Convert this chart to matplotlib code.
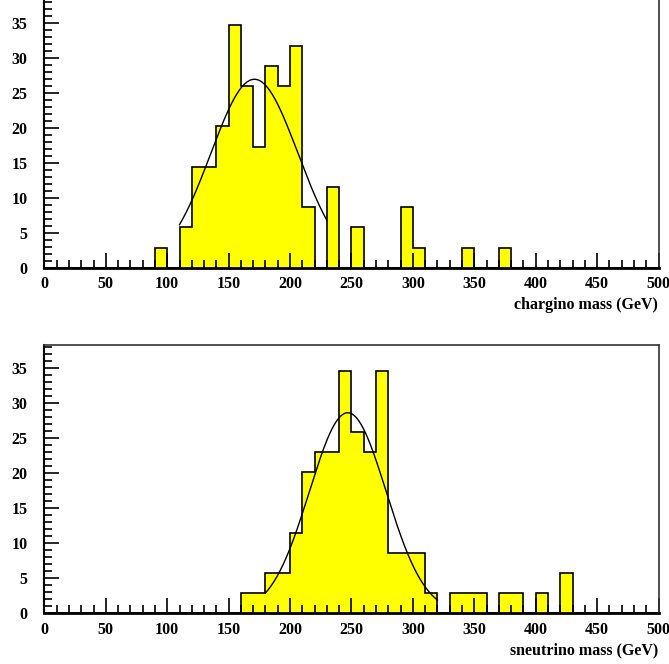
import numpy as np
import matplotlib
matplotlib.use("Agg")
import matplotlib.pyplot as plt
from matplotlib.ticker import MultipleLocator

# bin edges (GeV), 10 GeV bins from 0 to 500
bin_width = 10
x_min, x_max = 0, 500

chargino_counts = [0, 0, 0, 0, 0, 0, 0, 0, 0, 2.88,
                   0, 5.76, 14.4, 14.4, 20.2, 34.6, 25.9, 17.3, 28.8, 25.9,
                   31.7, 8.64, 0, 11.5, 0, 5.76, 0, 0, 0, 8.64,
                   2.88, 0, 0, 0, 2.88, 0, 0, 2.88, 0, 0,
                   0, 0, 0, 0, 0, 0, 0, 0, 0, 0]

sneutrino_counts = [0, 0, 0, 0, 0, 0, 0, 0, 0, 0,
                    0, 0, 0, 0, 0, 0, 2.88, 2.88, 5.76, 5.76,
                    11.5, 20.2, 23.0, 23.0, 34.6, 25.9, 23.0, 34.6, 8.64, 8.64,
                    8.64, 2.88, 0, 2.88, 2.88, 2.88, 0, 2.88, 2.88, 0,
                    2.88, 0, 5.76, 0, 0, 0, 0, 0, 0, 0]

# Gaussian fit parameters: amplitude, mean, sigma, fit range
chargino_fit = dict(amp=26.9, mean=171.0, sigma=35.5, lo=110, hi=230)
sneutrino_fit = dict(amp=28.6, mean=247.0, sigma=31.3, lo=180, hi=320)

xlabels = ["chargino mass (GeV)", "sneutrino mass (GeV)"]

plt.rcParams['font.family'] = ['Liberation Serif', 'DejaVu Serif']
plt.rcParams['font.weight'] = 'bold'

fig = plt.figure(figsize=(6.69, 6.64), dpi=100)
W, H = 669, 664

def add_axes_px(left, top, right, bottom):
    return fig.add_axes([left / W, 1 - bottom / H, (right - left) / W, (bottom - top) / H])

ax_top = add_axes_px(44.4, -0.6, 658.5, 267.7)
ax_bot = add_axes_px(44.4, 344.7, 658.5, 613.3)

edges = np.arange(x_min, x_max + bin_width, bin_width)

for ax, counts, fit, lab in [(ax_top, chargino_counts, chargino_fit, xlabels[0]),
                             (ax_bot, sneutrino_counts, sneutrino_fit, xlabels[1])]:
    ax.stairs(counts, edges, fill=True, color='#ffff00', zorder=1)
    ax.stairs(counts, edges, baseline=0, color='black', linewidth=1.2, zorder=2)
    xs = np.linspace(fit['lo'], fit['hi'], 300)
    ys = fit['amp'] * np.exp(-0.5 * ((xs - fit['mean']) / fit['sigma']) ** 2)
    ax.plot(xs, ys, color='black', linewidth=1.0, zorder=3)

    ax.set_xlim(x_min, x_max)
    ax.set_ylim(0, 38.3)
    ax.xaxis.set_major_locator(MultipleLocator(50))
    ax.xaxis.set_minor_locator(MultipleLocator(10))
    ax.yaxis.set_major_locator(MultipleLocator(5))
    ax.yaxis.set_minor_locator(MultipleLocator(1))
    ax.tick_params(axis='both', which='both', direction='in', top=False, right=False,
                   width=1.2, labelsize=11.5)
    ax.tick_params(axis='both', which='major', length=11)
    ax.tick_params(axis='both', which='minor', length=6)
    ax.tick_params(axis='x', which='major', pad=6)
    ax.tick_params(axis='y', which='major', pad=12)
    for t in ax.get_xticklabels() + ax.get_yticklabels():
        t.set_fontweight('bold')
    ax.spines['bottom'].set_linewidth(2.0)
    ax.spines['left'].set_linewidth(1.5)
    ax.spines['top'].set_linewidth(1.2)
    ax.spines['right'].set_linewidth(1.2)
    ax.spines['top'].set_color('#333333')
    ax.spines['right'].set_color('#333333')

fig.text(658 / W, 1 - 305 / H, xlabels[0], ha='right', va='center', fontsize=11.5, fontweight='bold')
fig.text(658 / W, 1 - 650 / H, xlabels[1], ha='right', va='center', fontsize=11.5, fontweight='bold')

fig.savefig("out.png", dpi=100)
